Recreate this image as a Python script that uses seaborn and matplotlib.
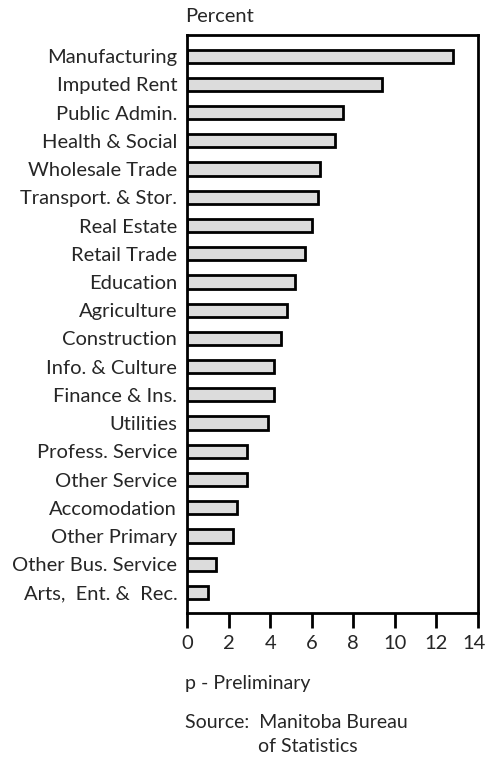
import matplotlib
matplotlib.use('Agg')
import matplotlib.pyplot as plt
import matplotlib.transforms as mtransforms
import seaborn as sns
import pandas as pd

industries = ['Manufacturing', 'Imputed Rent', 'Public Admin.', 'Health & Social',
              'Wholesale Trade', 'Transport. & Stor.', 'Real Estate', 'Retail Trade',
              'Education', 'Agriculture', 'Construction', 'Info. & Culture',
              'Finance & Ins.', 'Utilities', 'Profess. Service', 'Other Service',
              'Accomodation', 'Other Primary', 'Other Bus. Service', 'Arts,  Ent. &  Rec.']
percent = [12.8, 9.4, 7.5, 7.1, 6.4, 6.3, 6.0, 5.7, 5.2, 4.8, 4.5, 4.2, 4.2, 3.9,
           2.9, 2.9, 2.4, 2.2, 1.4, 1.0]
xticks = [0, 2, 4, 6, 8, 10, 12, 14]

df = pd.DataFrame({'industry': industries, 'percent': percent})

sns.set_style('white')
plt.rcParams['font.family'] = ['Lato', 'DejaVu Sans']
FS = 14.5

fig = plt.figure(figsize=(4.87, 7.58), dpi=100)
ax = fig.add_axes([0.384, 0.1913, 0.5975, 0.7625])

sns.barplot(data=df, x='percent', y='industry', color='#dcdcdc',
            edgecolor='black', linewidth=2, width=0.47, saturation=1, ax=ax)

ax.set_xlim(0, 14)
ax.set_ylim(19.73, -0.75)
ax.set_xticks(xticks)
ax.set_xticklabels([str(t) for t in xticks])
ax.set_xlabel('')
ax.set_ylabel('')
ax.tick_params(axis='x', direction='out', length=11, width=2, labelsize=FS,
               pad=5, bottom=True, color='black')
ax.tick_params(axis='y', length=0, labelsize=FS, pad=7)
for s in ax.spines.values():
    s.set_linewidth(2)
    s.set_color('black')

# last tick label sits at the figure edge; nudge it in a few pixels
last = ax.get_xticklabels()[-1]
last.set_transform(last.get_transform() +
                   mtransforms.ScaledTranslation(-4 / 100, 0, fig.dpi_scale_trans))

fig.text(185 / 487, 1 - 17 / 758, 'Percent', fontsize=FS, ha='left', va='center')
fig.text(185 / 487, 1 - 683 / 758, 'p - Preliminary', fontsize=14, ha='left', va='center')
fig.text(185 / 487, 1 - 722 / 758, 'Source:  Manitoba Bureau', fontsize=14,
         ha='left', va='center')
fig.text(258 / 487, 1 - 747 / 758, 'of Statistics', fontsize=14, ha='left', va='center')

fig.savefig('out.png', dpi=100)
